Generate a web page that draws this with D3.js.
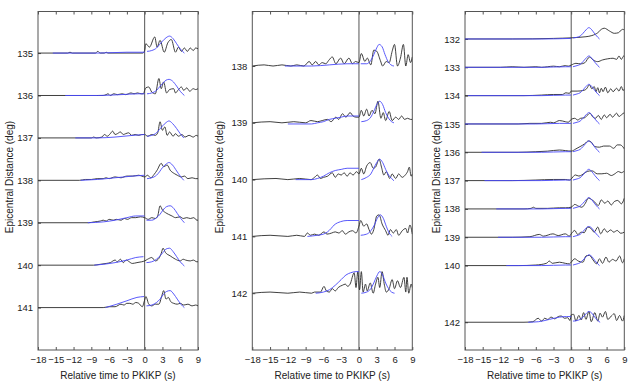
<!DOCTYPE html>
<html>
<head>
<meta charset="utf-8">
<script src="https://cdn.jsdelivr.net/npm/d3@7"></script>
<style>
  body { margin: 0; background: #fff; }
  svg { display: block; font-family: "Liberation Sans", Arial, sans-serif; }
  .tick text { fill: #222; }
</style>
</head>
<body>
<svg id="chart" width="640" height="386"></svg>
<script>
// time axis (s, relative to PKIKP)
var timeTicks = [-18, -15, -12, -9, -6, -3, 0, 3, 6, 9];

// amplitudes below are in units of 0.02 deg of trace offset, as [time, amplitude]

// ---- left panel
var p1Dist = [135, 136, 137, 138, 139, 140, 141];
var p1Black = [
  [[-18,0],[-13,0],[-12.6,1],[-12.2,0],[-8.3,0],[-7.9,2],[-7.5,0],[-6.8,0],[-6.5,1],[-6.2,0],[-0.3,0],[0,3],[0.2,11],[0.8,7],[1.7,19],[2.1,7],[2.6,15],[3.3,1],[3.9,12],[4.5,16],[5.2,1],[5.7,7],[6.2,2],[6.7,6],[7.2,2],[7.7,6],[8.2,3],[8.6,6],[9,5]],
  [[-18,0],[-7,0],[-6.5,1],[-6.2,2],[-5.8,0],[-5.2,2],[-4.6,1],[-3.8,2],[-3.2,1],[-2.3,3],[-1.8,2],[-1.2,3],[-0.6,2],[-0.2,2],[0,6],[0.2,9],[0.7,10],[1.2,4],[1.8,2],[2.4,20],[2.8,8],[3.2,16],[3.7,3],[4.2,7],[4.9,8],[5.2,3],[5.7,7],[6.2,10],[6.6,6],[7.1,9],[7.6,5],[8.2,8],[8.6,7],[9,8]],
  [[-18,0],[-9,0],[-8.6,1],[-8.2,0],[-7.2,1],[-6.8,4],[-6.3,2],[-5.8,5],[-5.4,8],[-5,4],[-4.6,5],[-4.1,7],[-3.6,4],[-3.2,5],[-2.7,6],[-2.2,3],[-1.6,4],[-1,3],[-0.5,4],[0,4],[0.5,2],[1.2,4],[1.8,3],[2.2,6],[2.6,19],[3,9],[3.4,13],[3.8,3],[4.2,7],[4.8,2],[5.2,5],[5.7,2],[6.3,4],[6.8,1],[7.5,3],[8.2,1],[8.7,3],[9,2]],
  [[-18,0],[-11,0],[-10,1],[-9,1],[-8,2],[-7,2],[-6.5,3],[-6,2],[-5,4],[-4,3],[-3,5],[-2,5],[-1,6],[-0.5,5],[0,4],[0.5,6],[1,3],[1.6,7],[2.1,12],[2.8,20],[3.2,16],[3.8,18],[4.3,12],[5,8],[5.5,6],[6.2,4],[6.7,5],[7.3,2],[8,3],[8.6,2],[9,2]],
  [[-18,0],[-9.5,0],[-8.5,1],[-7.5,2],[-7,3],[-6.5,2],[-6,4],[-5.3,3],[-4.8,4],[-4,3],[-3.4,5],[-2.9,4],[-2.2,6],[-1.5,6],[-0.7,7],[0,6],[0.6,4],[1.2,6],[1.8,5],[2.2,8],[2.6,20],[3,15],[3.5,12],[4,10],[4.6,8],[5.2,6],[6,7],[6.5,5],[7.1,6],[7.7,5],[8.3,6],[8.8,3],[9,3]],
  [[-18,0],[-8.6,0],[-7.5,1],[-6.5,2],[-5.8,3],[-5,6],[-4.6,4],[-4.1,7],[-3.6,3],[-3.1,6],[-2.6,4],[-2.1,2],[-1.3,3],[-0.5,4],[0,5],[0.5,7],[1.2,9],[1.8,5],[2.4,8],[2.8,14],[3.1,20],[3.5,15],[4.3,11],[5.2,7],[6,5],[6.5,7],[6.9,6],[7.7,5],[8.2,6],[8.8,4],[9,4]],
  [[-18,0],[-7,0],[-6,1],[-5,1],[-4,4],[-3.5,3],[-3,5],[-2.5,5],[-2,4],[-1.5,6],[-1,5],[-0.4,1],[0,9],[0.2,13],[0.7,4],[1.2,2],[1.8,4],[2.4,4],[2.9,14],[3.2,20],[3.6,10],[4,12],[4.4,7],[4.9,5],[5.5,4],[6,5],[6.6,3],[7.3,4],[8,2],[8.6,3],[9,2]]
];
var p1BlueBefore = [
  [[-15.5,0],[-8,0],[-3,1],[0,1]],
  [[-13.4,0],[-8,0],[-4,1],[-1,2],[0,2]],
  [[-11.7,0],[-8,0],[-5,1],[-2,3],[0,4]],
  [[-10.8,0],[-8,1],[-5,3],[-2,5],[0,6]],
  [[-9.6,0],[-7,1],[-5,3],[-3,6],[-1.5,8],[0,8]],
  [[-8.5,0],[-7,1],[-5,3],[-3,6],[-1.5,9],[-0.2,10]],
  [[-6.6,0],[-4.7,4],[-3,8],[-1.3,12],[-0.1,13]]
];
var p1BlueAfter = [
  [[0.4,2],[1.2,3],[2,6],[2.5,10],[3,14],[3.6,18],[4.2,20],[4.8,17],[5.4,11],[6,5],[6.7,0]],
  [[0.4,2],[1.2,3],[2,6],[2.5,10],[3,14],[3.6,18],[4.1,19],[4.7,17],[5.4,11],[6,5],[6.7,0]],
  [[0.4,2],[1.2,3],[2,6],[2.5,10],[3,14],[3.6,18],[4.1,20],[4.7,17],[5.4,11],[6,5],[6.6,0]],
  [[0.4,2],[1.2,3],[2,6],[2.5,10],[3,15],[3.6,19],[4.1,21],[4.7,18],[5.4,11],[6,5],[6.6,0]],
  [[0.3,3],[1.2,3],[2,6],[2.6,10],[3.1,15],[3.7,19],[4.3,20],[4.9,17],[5.5,11],[6.1,5],[6.7,0]],
  [[0.3,3],[1.2,4],[2,7],[2.6,11],[3.1,15],[3.6,19],[4.2,20],[4.8,16],[5.4,10],[6,4],[6.7,-1]],
  [[0.3,2],[1.2,3],[2,6],[2.6,10],[3.1,15],[3.7,19],[4.3,20],[4.9,16],[5.5,10],[6.1,4],[6.7,0]]
];

// ---- middle panel
var p2Dist = [138, 139, 140, 141, 142];
var p2Black = [
  [[-18,0],[-16,1],[-14.5,0],[-13,1],[-11.5,0],[-10.5,1],[-9.3,0],[-8.4,4],[-7.9,1],[-7.3,4],[-6.8,1],[-6.2,3],[-5.6,2],[-5.1,5],[-4.5,8],[-3.9,2],[-3.1,7],[-2.5,2],[-1.7,7],[-1.1,2],[-0.6,4],[0,3],[0.4,11],[1,4],[1.4,7],[2,1],[2.5,14],[3,13],[3.6,5],[4,0],[4.6,4],[5.1,3],[5.6,13],[6,19],[6.5,0],[7,7],[7.5,19],[7.9,0],[8.3,10],[8.7,3],[9,8]],
  [[-18,0],[-15,1],[-13,0],[-11,1],[-9,0],[-8.1,2],[-7,1],[-6.2,2],[-5.3,3],[-4.7,1],[-3.9,5],[-3.4,3],[-2.8,8],[-2.2,5],[-1.5,9],[-1,6],[-0.5,5],[0,5],[0.4,11],[0.8,6],[1.3,12],[1.7,6],[2.2,11],[2.7,8],[3.2,19],[3.7,4],[4.1,9],[4.5,2],[5.1,10],[5.6,2],[6.2,5],[6.7,3],[7.2,6],[7.7,3],[8.2,4],[8.7,3],[9,3]],
  [[-18,0],[-14,1],[-12,0],[-10,1],[-8.1,0],[-7.5,2],[-7,4],[-6.5,1],[-6,2],[-5.3,3],[-4.5,6],[-4,2],[-3.5,5],[-3,4],[-2.5,6],[-2,3],[-1.5,6],[-1,4],[-0.4,7],[0,5],[0.4,10],[0.8,5],[1.3,12],[1.9,15],[2.4,10],[2.8,11],[3.4,18],[3.8,11],[4.2,4],[4.6,7],[5.2,1],[5.6,5],[6.2,1],[6.7,5],[7.3,2],[7.8,4],[8.2,7],[8.5,11],[8.8,3],[9,5]],
  [[-18,0],[-15,1],[-12,0],[-10.5,1],[-9.2,0],[-8.7,3],[-8.2,1],[-7.5,2],[-6.8,1],[-5.9,4],[-5.4,2],[-4.6,3],[-4,4],[-3.4,3],[-2.8,5],[-2.3,2],[-1.7,4],[-1.1,5],[-0.5,3],[0,9],[0.3,14],[0.8,9],[1.3,11],[1.7,6],[2.1,2],[2.5,6],[3,18],[3.4,19],[3.9,11],[4.5,5],[4.9,1],[5.3,6],[5.8,3],[6.3,6],[6.7,1],[7.3,5],[7.9,7],[8.2,3],[8.6,10],[9,2]],
  [[-18,0],[-15,1],[-12,0],[-10,1],[-8,0],[-7.5,1],[-6.5,1],[-5.9,6],[-5.5,2],[-5,1],[-4.5,4],[-4,2],[-3.5,5],[-2.8,7],[-2.3,8],[-1.9,6],[-1.5,8],[-0.8,18],[-0.5,5],[-0.2,19],[0.1,3],[0.4,19],[0.7,1],[1.1,8],[1.4,2],[1.9,9],[2.4,0],[2.8,8],[3.2,14],[3.5,5],[3.9,19],[4.3,7],[4.6,1],[5.1,4],[5.6,12],[6,4],[6.5,11],[7,5],[7.6,14],[7.9,1],[8.1,14],[8.4,0],[8.8,8],[9,5]]
];
var p2BlueBefore = [
  [[-12.5,0],[-8,0],[-5,1],[-2,2],[0,2]],
  [[-12,-1],[-8,-1],[-7,0],[-6,1],[-5,3],[-4,4],[-3,5],[-2,6],[0,6]],
  [[-10.7,0],[-8,0],[-7,1],[-6,3],[-5,6],[-4,8],[-3,9],[-2,10],[0,10]],
  [[-8.7,0],[-7,1],[-6,2],[-5.3,4],[-4.7,7],[-4.2,10],[-3.6,12],[-3.1,13],[-2,14],[0,14]],
  [[-7.3,0],[-6,1],[-5,3],[-4,7],[-3,12],[-2.2,16],[-1.4,18],[-0.5,19],[0,19]]
];
var p2BlueAfter = [
  [[0.3,2],[1.3,2],[2,5],[2.5,10],[3,16],[3.4,19],[3.9,17],[4.4,10],[4.9,4],[5.4,1],[5.9,0]],
  [[0.4,1],[1.3,2],[2,5],[2.5,10],[3,16],[3.5,19],[4,16],[4.5,9],[5,4],[5.5,1],[5.9,0]],
  [[0.4,0],[1.3,2],[2,5],[2.5,10],[3,15],[3.5,18],[4,15],[4.5,9],[5,4],[5.5,1],[5.9,-1]],
  [[0.3,1],[1.3,2],[2,5],[2.6,10],[3.1,16],[3.6,19],[4.1,16],[4.6,9],[5.1,3],[5.6,0]],
  [[0.4,0],[1.3,1],[2,4],[2.5,9],[3,15],[3.5,19],[4,16],[4.5,9],[5,4],[5.5,1],[6,0]]
];

// ---- right panel
var p3Dist = [132, 133, 134, 135, 136, 137, 138, 139, 140, 142];
var p3Black = [
  [[-18,0],[-10,0],[-3,1],[0,2],[1.5,3],[2.5,4],[3.5,6],[4.5,11],[5.1,17],[5.6,19],[6.5,14],[7.3,10],[8,11],[8.7,17],[9,16]],
  [[-18,0],[-12,0],[-10,1],[-8,0],[-6,1],[-5,0],[-4,1],[-3,2],[-2,1],[-1,3],[-0.5,2],[0,4],[0.8,7],[1.6,6],[2.3,8],[3.1,18],[3.7,13],[4.5,10],[5.3,13],[6.2,15],[7.1,16],[7.7,14],[8.1,20],[8.5,14],[8.9,20],[9,19]],
  [[-18,0],[-8,0],[-5,1],[-3,2],[-1.5,2],[-0.9,5],[-0.3,4],[0,8],[1,8],[2,9],[2.6,12],[3.1,19],[3.5,12],[3.9,16],[4.2,7],[4.5,14],[4.8,5],[5.1,13],[5.4,7],[5.8,15],[6.2,5],[6.7,12],[7.1,7],[7.7,13],[8.1,8],[8.5,16],[8.8,9],[9,12]],
  [[-18,0],[-9,0],[-7,1],[-5,1],[-3.5,3],[-3,2],[-2,6],[-1,4],[-0.5,3],[0,8],[0.6,10],[1.1,7],[1.6,10],[2.3,11],[2.7,15],[3.2,19],[3.6,13],[4.1,10],[4.6,15],[5.1,8],[5.6,16],[6,11],[6.6,17],[7,12],[7.7,19],[8.1,13],[8.6,17],[9,20]],
  [[-18,0],[-9,0],[-6,1],[-4,2],[-2,4],[-1,3],[0,2],[0.8,6],[1.5,10],[2.3,15],[2.9,20],[3.4,18],[4,10],[4.8,9],[5.5,11],[6.5,11],[7.2,7],[7.8,13],[8.3,13],[8.8,9],[9,6]],
  [[-18,0],[-10,0],[-6,1],[-3,2],[-1,2],[-0.3,1],[0,3],[0.7,10],[1.3,8],[1.8,10],[2.5,15],[3.1,17],[3.6,17],[4.4,12],[5.2,12],[6,13],[6.8,9],[7.4,12],[8,16],[8.5,14],[9,17]],
  [[-18,0],[-8,0],[-6.8,1],[-6.4,3],[-6,1],[-4,1],[-2,2],[-1,2],[0,3],[0.6,8],[1.2,5],[1.8,3],[2.4,10],[2.9,19],[3.4,17],[4,12],[4.6,6],[5.1,16],[5.7,10],[6.2,14],[6.8,7],[7.3,13],[7.9,15],[8.5,9],[9,19]],
  [[-18,0],[-10,0],[-7,1],[-5.4,5],[-4.7,2],[-3.1,6],[-2.2,3],[-1,6],[-0.3,2],[0,6],[0.6,12],[1.1,5],[1.7,9],[2.2,8],[2.8,18],[3.3,16],[3.9,9],[4.5,18],[5,6],[5.6,15],[6.1,9],[6.7,13],[7.2,9],[7.8,12],[8.4,7],[9,9]],
  [[-18,0],[-9,0],[-6,1],[-4.2,4],[-3.7,8],[-3.2,4],[-2,6],[-1,4],[-0.3,3],[0,6],[0.6,12],[1.2,8],[2,6],[2.5,17],[3.1,18],[3.7,10],[4.3,3],[4.8,12],[5.3,4],[5.9,15],[6.4,6],[7,11],[7.6,8],[8.2,17],[8.7,5],[9,12]],
  [[-18,0],[-8,0],[-6.5,1],[-5.6,7],[-5,2],[-4.5,7],[-4,5],[-3.4,9],[-2.8,6],[-2.2,10],[-1.7,11],[-1.1,7],[-0.6,8],[-0.2,3],[0,13],[0.4,14],[0.8,2],[1.3,12],[1.7,4],[2.1,17],[2.5,5],[3,19],[3.4,1],[4,17],[4.5,2],[4.9,16],[5.3,9],[5.8,19],[6.2,5],[6.8,11],[7.3,15],[7.7,3],[8.2,12],[8.7,2],[9,12]]
];
var p3BlueBefore = [
  [[-18,0],[-5,0],[0,1]],
  [[-18,0],[-5,0],[-1,1],[0,1]],
  [[-17.5,0],[-5,0],[-1,1],[0,1]],
  [[-18,0],[-6,0],[-2,1],[0,1]],
  [[-15.2,0],[-5,0],[-1,1],[0,1]],
  [[-14.7,0],[-5,0],[-1,1],[0,1]],
  [[-12.7,0],[-5,0],[-1,1],[0,1]],
  [[-12.4,0],[-5,0],[-1,1],[0,1]],
  [[-11,0],[-5,0],[-1,1],[0,1]],
  [[-7.3,0],[-5.5,1],[-3.7,5],[-2,9],[-0.8,10],[0,10]]
];
var p3BlueAfter = [
  [[0.3,2],[1,3],[1.5,5],[2,10],[2.5,16],[3,20],[3.5,16],[4,9],[4.5,3],[4.8,0]],
  [[0.3,1],[1,3],[1.5,5],[2,10],[2.5,16],[3,20],[3.5,16],[4,9],[4.5,3],[4.8,0]],
  [[0.3,1],[1,3],[1.5,5],[2,10],[2.5,16],[3,20],[3.5,16],[4,9],[4.5,3],[4.8,0]],
  [[0.3,1],[1,3],[1.5,5],[2,10],[2.5,16],[3,20],[3.5,16],[4,9],[4.5,3],[4.8,0]],
  [[0.3,1],[1,3],[1.5,5],[2,10],[2.5,16],[3,20],[3.5,16],[4,9],[4.5,3],[4.8,0]],
  [[0.3,1],[1,3],[1.5,5],[2,10],[2.5,16],[3,20],[3.5,16],[4,9],[4.5,3],[4.8,0]],
  [[0.3,1],[1,3],[1.5,5],[2,10],[2.5,16],[3,20],[3.5,16],[4,9],[4.5,3],[4.8,0]],
  [[0.3,1],[1,3],[1.5,5],[2,10],[2.5,16],[3,19],[3.5,16],[4,9],[4.5,3],[4.8,0]],
  [[0.3,1],[1,3],[1.5,5],[2,10],[2.5,15],[3,19],[3.5,16],[4,9],[4.5,3],[4.8,0]],
  [[0.3,2],[1,3],[1.5,5],[2,9],[2.5,15],[3,19],[3.5,16],[4,9],[4.5,3],[4.9,0]]
];

var ampUnit = 0.02;   // deg per amplitude unit
var plotTop = 11.5, plotBottom = 350;

var panels = [
  {dist: p1Dist, black: p1Black, before: p1BlueBefore, after: p1BlueAfter, left: 38, right: 198, yDomain: [134.02, 142], labelX: 9},
  {dist: p2Dist, black: p2Black, before: p2BlueBefore, after: p2BlueAfter, left: 252.3, right: 412.3, yDomain: [137.04, 143], labelX: 219},
  {dist: p3Dist, black: p3Black, before: p3BlueBefore, after: p3BlueAfter, left: 465, right: 624.3, yDomain: [131.03, 142.98], labelX: 436}
];

var svg = d3.select("#chart");

panels.forEach(function(p, pi) {
  var x = d3.scaleLinear().domain([-18, 9]).range([p.left, p.right]);
  var y = d3.scaleLinear().domain(p.yDomain).range([plotTop, plotBottom]);
  var g = svg.append("g");

  g.append("clipPath").attr("id", "clip" + pi)
    .append("rect").attr("x", p.left).attr("y", plotTop)
    .attr("width", p.right - p.left).attr("height", plotBottom - plotTop);

  // frame + zero line
  g.append("rect")
    .attr("x", p.left).attr("y", plotTop)
    .attr("width", p.right - p.left).attr("height", plotBottom - plotTop)
    .attr("fill", "none").attr("stroke", "#555").attr("stroke-width", 1);
  g.append("line")
    .attr("x1", x(0)).attr("x2", x(0)).attr("y1", plotTop).attr("y2", plotBottom)
    .attr("stroke", "#555").attr("stroke-width", 1);

  // axes with inward ticks
  var ax = g.append("g").attr("transform", "translate(0," + plotBottom + ")")
    .call(d3.axisBottom(x).tickValues(timeTicks).tickSize(-3).tickPadding(6).tickFormat(d3.format("d")));
  ax.select(".domain").remove();
  ax.selectAll("line").attr("stroke", "#555");
  ax.selectAll("text").style("font-size", "9.5px");

  var axTop = g.append("g").attr("transform", "translate(0," + plotTop + ")")
    .call(d3.axisTop(x).tickValues(timeTicks).tickSize(-3).tickFormat(""));
  axTop.select(".domain").remove();
  axTop.selectAll("line").attr("stroke", "#555");

  var ay = g.append("g").attr("transform", "translate(" + p.left + ",0)")
    .call(d3.axisLeft(y).tickValues(p.dist).tickSize(-3).tickPadding(5).tickFormat(d3.format("d")));
  ay.select(".domain").remove();
  ay.selectAll("line").attr("stroke", "#555");
  ay.selectAll("text").style("font-size", "9.5px");

  // axis titles
  g.append("text")
    .attr("x", (p.left + p.right) / 2).attr("y", 378.5)
    .attr("text-anchor", "middle").attr("fill", "#222")
    .style("font-size", "10px")
    .text("Relative time to PKIKP (s)");
  g.append("text")
    .attr("transform", "translate(" + p.labelX + ",177) rotate(-90)")
    .attr("dy", "0.35em")
    .attr("text-anchor", "middle").attr("fill", "#222")
    .style("font-size", "10px")
    .text("Epicentral Distance (deg)");

  var traces = g.append("g").attr("clip-path", "url(#clip" + pi + ")");

  p.dist.forEach(function(d, i) {
    var line = d3.line()
      .x(function(v) { return x(v[0]); })
      .y(function(v) { return y(d - v[1] * ampUnit); })
      .curve(d3.curveMonotoneX);

    traces.append("path").attr("d", line(p.black[i]))
      .attr("fill", "none").attr("stroke", "#2a2a2a").attr("stroke-width", 0.9);
    traces.append("path").attr("d", line(p.before[i]))
      .attr("fill", "none").attr("stroke", "#4848fa").attr("stroke-width", 1).attr("stroke-opacity", 0.9);
    traces.append("path").attr("d", line(p.after[i]))
      .attr("fill", "none").attr("stroke", "#4848fa").attr("stroke-width", 1).attr("stroke-opacity", 0.9);
  });
});
</script>
</body>
</html>
